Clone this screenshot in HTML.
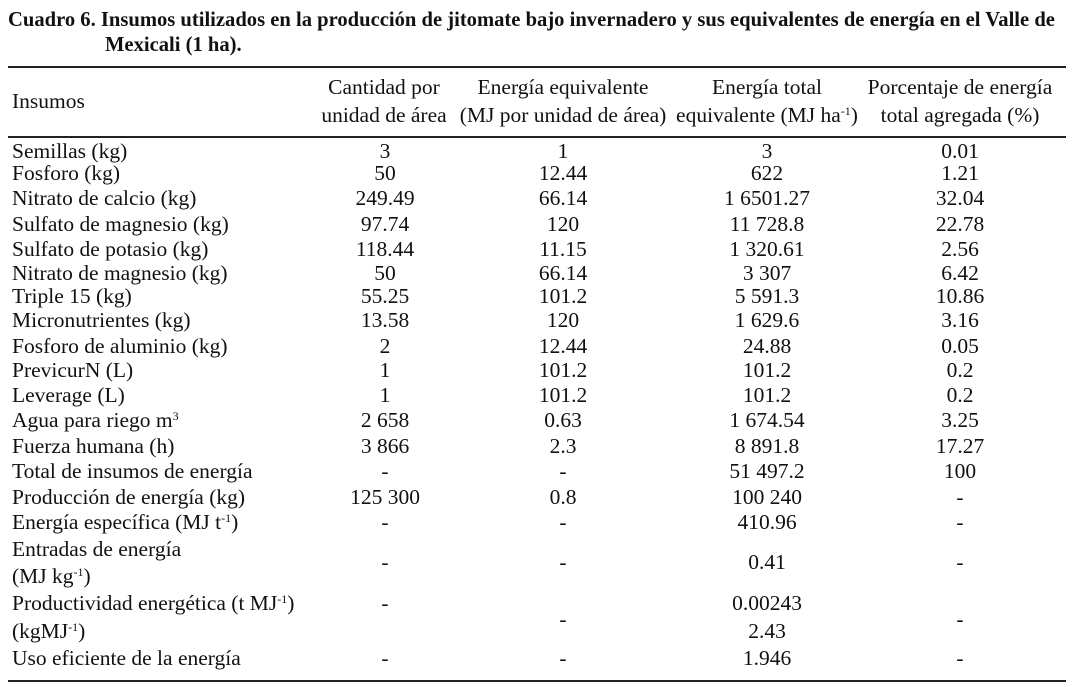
<!DOCTYPE html>
<html><head><meta charset="utf-8"><style>
body{margin:0;background:#fff;}
#t{position:relative;width:1077px;height:687px;font-family:"Liberation Serif",serif;font-size:21.5px;color:#111;overflow:hidden;}
.a{position:absolute;white-space:nowrap;line-height:1;}
.c{transform:translateX(-50%);}
.l{position:absolute;left:8px;width:1058px;height:1.5px;background:#222;}
.b{font-weight:bold;font-size:20.6px;}
sup{font-size:12px;vertical-align:7px;line-height:0;}
</style></head><body>
<div id="t">
<div class="a b" style="left:8px;top:10px">Cuadro 6. Insumos utilizados en la producción de jitomate bajo invernadero y sus equivalentes de energía en el Valle de</div>
<div class="a b" style="left:105px;top:35px">Mexicali (1 ha).</div>
<div class="l" style="top:66px"></div>
<div class="l" style="top:136px"></div>
<div class="l" style="top:680px"></div>
<div class="a" style="left:12px;top:91px">Insumos</div>
<div class="a c" style="left:384px;top:77px">Cantidad por</div>
<div class="a c" style="left:384px;top:105px">unidad de área</div>
<div class="a c" style="left:563px;top:77px">Energía equivalente</div>
<div class="a c" style="left:563px;top:105px">(MJ por unidad de área)</div>
<div class="a c" style="left:767px;top:77px">Energía total</div>
<div class="a c" style="left:767px;top:105px">equivalente (MJ ha<sup>-1</sup>)</div>
<div class="a c" style="left:960px;top:77px">Porcentaje de energía</div>
<div class="a c" style="left:960px;top:105px">total agregada (%)</div>
</div>
<script>
const labels=["Semillas (kg)","Fosforo (kg)","Nitrato de calcio (kg)","Sulfato de magnesio (kg)","Sulfato de potasio (kg)","Nitrato de magnesio (kg)","Triple 15 (kg)","Micronutrientes (kg)","Fosforo de aluminio (kg)","PrevicurN (L)","Leverage (L)","Agua para riego m<sup>3</sup>","Fuerza humana (h)","Total de insumos de energía","Producción de energía (kg)","Energía específica (MJ t<sup>-1</sup>)","Entradas de energía","(MJ kg<sup>-1</sup>)","Productividad energética (t MJ<sup>-1</sup>)","(kgMJ<sup>-1</sup>)","Uso eficiente de la energía"];
const rowY=[152,174,199,225,250,274,297,321,347,371,396,421,447,472,498,523,550,577,604,632,659];
const cells=[
[0,"3","1","3","0.01"],[1,"50","12.44","622","1.21"],[2,"249.49","66.14","1 6501.27","32.04"],
[3,"97.74","120","11 728.8","22.78"],[4,"118.44","11.15","1 320.61","2.56"],[5,"50","66.14","3 307","6.42"],
[6,"55.25","101.2","5 591.3","10.86"],[7,"13.58","120","1 629.6","3.16"],[8,"2","12.44","24.88","0.05"],
[9,"1","101.2","101.2","0.2"],[10,"1","101.2","101.2","0.2"],[11,"2 658","0.63","1 674.54","3.25"],
[12,"3 866","2.3","8 891.8","17.27"],[13,"-","-","51 497.2","100"],[14,"125 300","0.8","100 240","-"],
[15,"-","-","410.96","-"]];
const extra=[[563,"-","-","0.41","-"],[604,"-","","0.00243",""],[632,"","","2.43",""],[620,"","-","","-"],[659,"-","-","1.946","-"]];
const colX=[385,563,767,960];
const T=document.getElementById('t');
function add(html,x,y,center,name){const d=document.createElement('div');d.className='a'+(center?' c':'');d.style.left=x+'px';d.style.top=(y-11)+'px';d.innerHTML=html;


T.appendChild(d);}
labels.forEach((s,i)=>add(s,12,rowY[i],false,'row-label'));
cells.forEach(r=>{for(let k=0;k<4;k++)add(r[k+1],colX[k],rowY[r[0]],true,'cell-value');});
extra.forEach(r=>{for(let k=0;k<4;k++)if(r[k+1])add(r[k+1],colX[k],r[0],true,'cell-value');});
</script>
</body></html>
